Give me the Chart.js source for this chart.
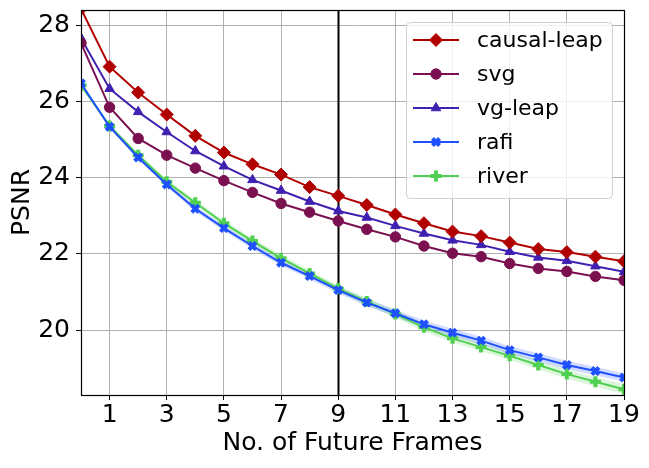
<!DOCTYPE html>
<html>
<head>
<meta charset="utf-8">
<script src="https://cdn.jsdelivr.net/npm/chart.js@4.4.0/dist/chart.umd.min.js"></script>
<style>
  html, body { margin: 0; padding: 0; background: #fff; }
  #wrap { width: 649px; height: 468px; }
</style>
</head>
<body>
<div id="wrap"><canvas id="psnrChart" width="649" height="468"></canvas></div>
<script>
const frames = [0, 1, 2, 3, 4, 5, 6, 7, 8, 9, 10, 11, 12, 13, 14, 15, 16, 17, 18, 19];
const xTicks = [1, 3, 5, 7, 9, 11, 13, 15, 17, 19];
const yTicks = [20, 22, 24, 26, 28];
const markerFrame = 9;

const causalLeap = [28.45, 26.93, 26.25, 25.67, 25.11, 24.67, 24.36, 24.09, 23.76, 23.53, 23.29, 23.04, 22.81, 22.59, 22.47, 22.30, 22.13, 22.05, 21.93, 21.81];
const svg = [27.55, 25.86, 25.04, 24.60, 24.26, 23.93, 23.62, 23.33, 23.10, 22.87, 22.65, 22.45, 22.21, 22.02, 21.93, 21.75, 21.62, 21.54, 21.41, 21.31];
const vgLeap = [27.68, 26.35, 25.74, 25.21, 24.71, 24.31, 23.95, 23.67, 23.38, 23.13, 22.96, 22.74, 22.54, 22.36, 22.24, 22.06, 21.91, 21.82, 21.68, 21.53];
const rafi = [26.49, 25.35, 24.54, 23.83, 23.19, 22.68, 22.21, 21.77, 21.42, 21.05, 20.72, 20.44, 20.15, 19.93, 19.72, 19.47, 19.28, 19.08, 18.92, 18.75];
const river = [26.44, 25.37, 24.60, 23.90, 23.35, 22.81, 22.34, 21.89, 21.49, 21.09, 20.75, 20.42, 20.07, 19.78, 19.55, 19.32, 19.08, 18.84, 18.64, 18.44];
// spread of the shaded bands
const rafiStd = [0.03, 0.04, 0.05, 0.06, 0.07, 0.07, 0.08, 0.08, 0.08, 0.09, 0.09, 0.09, 0.10, 0.10, 0.10, 0.10, 0.11, 0.11, 0.11, 0.11];
const riverStd = [0.03, 0.04, 0.05, 0.06, 0.07, 0.08, 0.08, 0.09, 0.09, 0.09, 0.10, 0.10, 0.10, 0.11, 0.11, 0.11, 0.12, 0.12, 0.12, 0.13];

const FONT = "'DejaVu Sans', sans-serif";

function pts(vals) {
  return frames.map((f, i) => ({ x: f, y: vals[i] }));
}

function series(label, vals, color, style, radius, bw) {
  return {
    label: label,
    data: pts(vals),
    borderColor: color,
    backgroundColor: color,
    borderWidth: 2,
    pointStyle: style,
    pointRadius: radius,
    pointBorderWidth: bw,
    pointBorderColor: color,
    pointBackgroundColor: color,
    tension: 0,
    fill: false,
    order: 1
  };
}

function band(vals, std, color) {
  return [
    {
      label: "_hi",
      data: frames.map((f, i) => ({ x: f, y: vals[i] + std[i] })),
      borderWidth: 0,
      pointRadius: 0,
      fill: false,
      order: 5
    },
    {
      label: "_lo",
      data: frames.map((f, i) => ({ x: f, y: vals[i] - std[i] })),
      borderWidth: 0,
      pointRadius: 0,
      backgroundColor: color,
      fill: "-1",
      order: 5
    }
  ];
}

const shown = [
  series("causal-leap", causalLeap, "#b00000", "rectRot", 6.5, 1),
  series("svg", svg, "#7a1050", "circle", 5.2, 1),
  series("vg-leap", vgLeap, "#4020b0", "triangle", 5.5, 1),
  series("rafi", rafi, "#1f50ff", "crossRot", 5, 4),
  series("river", river, "#50d050", "cross", 5.5, 4)
];

const frameBox = {
  id: "frameBox",
  beforeDatasetsDraw(chart) {
    const { ctx, chartArea: a, scales } = chart;
    const x = Math.round(scales.x.getPixelForValue(markerFrame)) + 0.5;
    ctx.save();
    ctx.strokeStyle = "#000";
    ctx.lineWidth = 2;
    ctx.beginPath();
    ctx.moveTo(x, a.top);
    ctx.lineTo(x, a.bottom);
    ctx.stroke();
    ctx.restore();
  },
  afterDraw(chart) {
    const { ctx, chartArea: a } = chart;
    ctx.save();
    ctx.strokeStyle = "#000";
    ctx.lineWidth = 1.2;
    ctx.strokeRect(Math.round(a.left) + 0.5, Math.round(a.top) + 0.5, Math.round(a.right - a.left), Math.round(a.bottom - a.top));

    // legend, matplotlib style
    const bx = 406, by = 22, bw = 206, bh = 176;
    ctx.fillStyle = "rgba(255,255,255,0.8)";
    ctx.strokeStyle = "#d0d0d0";
    ctx.lineWidth = 1;
    ctx.beginPath();
    ctx.roundRect(bx + 0.5, by + 0.5, bw, bh, 4);
    ctx.fill();
    ctx.stroke();
    ctx.font = "22px " + FONT;
    ctx.textBaseline = "middle";
    shown.forEach((ds, i) => {
      const y = 40 + i * 34;
      ctx.strokeStyle = ds.borderColor;
      ctx.lineWidth = 2;
      ctx.beginPath();
      ctx.moveTo(413, y);
      ctx.lineTo(459, y);
      ctx.stroke();
      ctx.fillStyle = ds.borderColor;
      ctx.strokeStyle = ds.borderColor;
      ctx.lineWidth = ds.pointBorderWidth;
      Chart.helpers.drawPoint(ctx, { pointStyle: ds.pointStyle, radius: ds.pointRadius, borderWidth: ds.pointBorderWidth, rotation: 0 }, 436, y);
      ctx.fillStyle = "#000";
      ctx.fillText(ds.label, 477, y + 1);
    });
    ctx.restore();
  }
};

new Chart(document.getElementById("psnrChart"), {
  type: "line",
  data: {
    datasets: [
      ...shown,
      ...band(rafi, rafiStd, "rgba(31,80,255,0.2)"),
      ...band(river, riverStd, "rgba(80,208,80,0.2)")
    ]
  },
  options: {
    responsive: false,
    animation: false,
    layout: { padding: { top: 10, right: 25, left: 0, bottom: 0 } },
    plugins: {
      legend: { display: false },
      tooltip: { enabled: false },
      filler: { propagate: false }
    },
    scales: {
      x: {
        type: "linear",
        min: 0,
        max: 19,
        afterBuildTicks: (s) => { s.ticks = xTicks.map(v => ({ value: v })); },
        afterFit: (s) => { s.height = 73; s.paddingLeft = 0; s.paddingRight = 0; },
        grid: { color: "#b0b0b0", lineWidth: 1, tickColor: "#000", tickLength: 5 },
        border: { display: false },
        ticks: { color: "#000", font: { family: FONT, size: 25 }, padding: 0, maxRotation: 0 },
        title: { display: true, text: "No. of Future Frames", color: "#000", font: { family: FONT, size: 25 }, padding: { top: 0, bottom: 10 } }
      },
      y: {
        min: 18.29,
        max: 28.42,
        afterBuildTicks: (s) => { s.ticks = yTicks.map(v => ({ value: v })); },
        afterFit: (s) => { s.width = 81; s.paddingTop = 0; s.paddingBottom = 0; },
        grid: { color: "#b0b0b0", lineWidth: 1, tickColor: "#000", tickLength: 5 },
        border: { display: false },
        ticks: { color: "#000", font: { family: FONT, size: 25 }, padding: 6 },
        title: { display: true, text: "PSNR", color: "#000", font: { family: FONT, size: 25 }, padding: { top: 7, bottom: 0 } }
      }
    }
  },
  plugins: [frameBox]
});
</script>
</body>
</html>
